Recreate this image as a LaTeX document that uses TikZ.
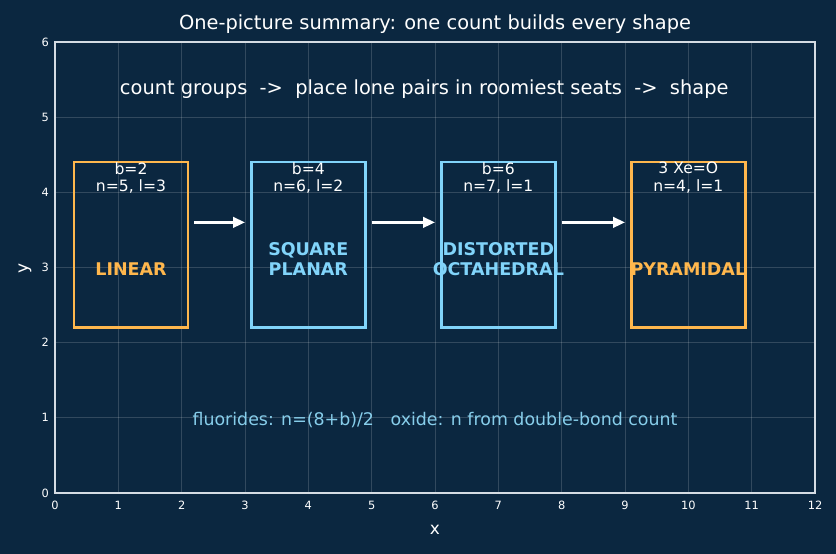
\documentclass[tikz,border=0pt]{standalone}
\usepackage{fontspec}
\setmainfont{DejaVu Sans}
\usetikzlibrary{arrows.meta}
\definecolor{bg}{HTML}{0B2740}
\definecolor{frame}{HTML}{D5DCE3}
\definecolor{orng}{HTML}{FFB74D}
\definecolor{lblue}{HTML}{81D4FA}
\definecolor{foot}{HTML}{87CEEB}
\tikzset{
  shapebox/.style={draw, line width=2.4pt, minimum width=114pt, minimum height=165.4pt, inner sep=0pt, anchor=center},
  countlbl/.style={text=white, font=\fontsize{15.6}{17.5}\selectfont, align=center, anchor=north, inner sep=0pt},
  shapelbl/.style={font=\bfseries\fontsize{17.5}{20}\selectfont, align=center, inner sep=0pt},
  arr/.style={-{Triangle[length=12pt,width=10.5pt]}, white, line width=2.6pt},
  ticklbl/.style={text=white, font=\fontsize{11.4}{13}\selectfont, inner sep=0pt},
  gridln/.style={draw=white, draw opacity=0.16, line width=0.8pt}
}
\begin{document}
\begin{tikzpicture}[x=1pt,y=1pt]
\fill[bg] (0,0) rectangle (836,554);
\useasboundingbox (0,0) rectangle (836,554);
\node[text=white, font=\fontsize{19.4}{23}\selectfont] (title) at (435,530) {One-picture summary: one count builds every shape};
\node[text=white, font=\fontsize{17}{20}\selectfont] (xlab) at (435,24) {x};
\node[text=white, font=\fontsize{17}{20}\selectfont, rotate=90] (ylab) at (25,286) {y};
\begin{scope}[shift={(55,61)}, x=63.333pt, y=75.167pt]
  % grid
  \foreach \i in {1,...,11} \draw[gridln] (\i,0) -- (\i,6);
  \foreach \j in {1,...,5} \draw[gridln] (0,\j) -- (12,\j);
  % tick labels
  \foreach \i in {0,...,12} {
    \node[ticklbl] (xt\i) at ([yshift=-12.5pt]\i,0) {\i};
  }
  \foreach \j in {0,...,6} {
    \node[ticklbl, anchor=east] (yt\j) at ([xshift=-6pt]0,\j) {\j};
  }
  % frame
  \draw[frame, line width=1.6pt] (0,0) rectangle (12,6);
  % top text
  \node[text=white, font=\fontsize{19.4}{23}\selectfont] (flow) at (5.83,5.375) {count groups\ \ ->\ \ place lone pairs in roomiest seats\ \ ->\ \ shape};
  % boxes
  \node[shapebox, draw=orng] (b1) at (1.2,3.3) {};
  \node[shapebox, draw=lblue] (b2) at (4.0,3.3) {};
  \node[shapebox, draw=lblue] (b3) at (7.0,3.3) {};
  \node[shapebox, draw=orng] (b4) at (10.0,3.3) {};
  % count labels
  \node[countlbl] (c1) at ([yshift=-1pt]b1.north) {b=2\\n=5, l=3};
  \node[countlbl] (c2) at ([yshift=-1pt]b2.north) {b=4\\n=6, l=2};
  \node[countlbl] (c3) at ([yshift=-1pt]b3.north) {b=6\\n=7, l=1};
  \node[countlbl] (c4) at ([yshift=-1pt]b4.north) {3 Xe=O\\n=4, l=1};
  % shape labels
  \node[shapelbl, text=orng] (s1) at (1.2,2.98) {LINEAR};
  \node[shapelbl, text=lblue] (s2) at (4.0,3.11) {SQUARE\\PLANAR};
  \node[shapelbl, text=lblue] (s3) at (7.0,3.11) {DISTORTED\\OCTAHEDRAL};
  \node[shapelbl, text=orng] (s4) at (10.0,2.98) {PYRAMIDAL};
  % arrows
  \coordinate (a1s) at (2.2,3.6); \coordinate (a1e) at (3.0,3.6);
  \coordinate (a2s) at (5.0,3.6); \coordinate (a2e) at (6.0,3.6);
  \coordinate (a3s) at (8.0,3.6); \coordinate (a3e) at (9.0,3.6);
  \draw[arr] (a1s) -- (a1e);
  \draw[arr] (a2s) -- (a2e);
  \draw[arr] (a3s) -- (a3e);
  % footnote
  \node[text=foot, font=\fontsize{17.4}{20}\selectfont] (fn) at (6.0,0.965) {fluorides: n=(8+b)/2\ \ \ oxide: n from double-bond count};
\end{scope}
\end{tikzpicture}
\end{document}
